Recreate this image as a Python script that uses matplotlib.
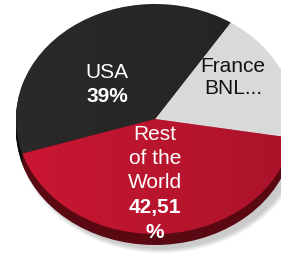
import numpy as np
import matplotlib
matplotlib.use("Agg")
import matplotlib.pyplot as plt
from matplotlib.patches import Ellipse

# ---- data ----
categories = ["France BNL...", "USA", "Rest of the World"]
values = [18.49, 39.0, 42.51]
top_colors = ["#d9d9d9", "#2a2a2a", "#cc1733"]
side_colors = ["#9a9a9a", "#0e0e0e", "#5a0812"]
shade = [0.0, 0.16, 0.16]
label_lines = [["France", "BNL..."], ["USA", "39%"], ["Rest", "of the", "World", "42,51", "%"]]
label_bold = [[False, False], [False, True], [False, False, False, True, True]]
label_colors = ["#111111", "white", "white"]

W, H = 281, 257
fig = plt.figure(figsize=(W / 100, H / 100), dpi=100)
ax = fig.add_axes([0, 0, 1, 1])
ax.set_axis_off()

k = 115 / 139.0  # vertical squash of the tilted pie
cx, cy, r = 155, 119, 139
depth = 11

def py(p):
    return (H - p) / k

# soft shadow
for i in range(6):
    e = Ellipse((cx + 6, py(cy + depth + 4)), 2 * r + 2 * i, 2 * r + 2 * i,
                facecolor="#000000", alpha=0.035, edgecolor="none", zorder=0)
    ax.add_patch(e)

# side (depth) layer
for d in np.linspace(depth, 1, 11):
    ax.pie(values, colors=side_colors, startangle=-9.5, counterclock=True,
           center=(cx, py(cy + d)), radius=r, frame=True,
           wedgeprops=dict(linewidth=0, zorder=1))

# top face
wedges, _ = ax.pie(values, colors=top_colors, startangle=-9.5, counterclock=True,
                   center=(cx, py(cy)), radius=r, frame=True,
                   wedgeprops=dict(linewidth=0, zorder=2))

# subtle left-to-right darkening on top face
for w, s in zip(wedges, shade):
    if s <= 0:
        continue
    grad = np.zeros((1, 256, 4))
    grad[..., 3] = np.linspace(0.0, s, 256)
    im = ax.imshow(grad, extent=(0, W, 0, H / k), aspect="auto", zorder=3,
                   interpolation="bilinear")
    im.set_clip_path(w)

ax.set_xlim(0, W)
ax.set_ylim(0, H / k)
ax.set_aspect("auto")
ax.set_axis_off()

# labels (pixel positions)
label_pos = [(233, [66, 89]), (107, [72, 96]), (155, [135, 159, 183, 207, 232])]
for (x, ys), lines, bolds, col in zip(label_pos, label_lines, label_bold, label_colors):
    for y, t, b in zip(ys, lines, bolds):
        fig.text(x / W, 1 - y / H, t, ha="center", va="center", color=col,
                 fontsize=15, family="Liberation Sans",
                 fontweight="bold" if b else "normal", zorder=10)

fig.savefig("out.png", dpi=100)
